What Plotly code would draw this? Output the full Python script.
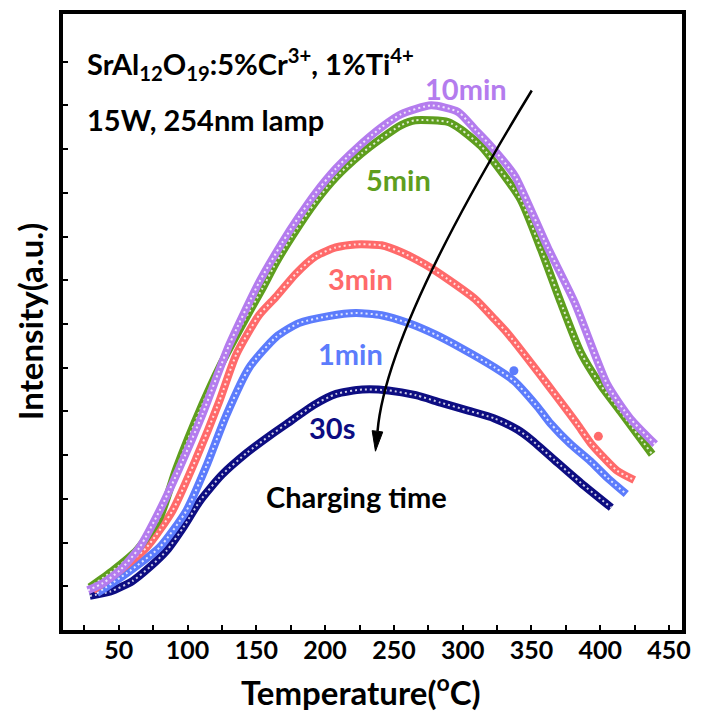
import plotly.graph_objects as go

# Thermoluminescence glow curves of SrAl12O19:5%Cr3+,1%Ti4+ after different charging times
temp_30s = [29, 44, 60, 73, 85, 97, 109, 125, 143, 160, 176, 192, 208, 227, 246, 266, 284,
            304, 323, 340, 350, 367, 386, 408]
int_30s = [0.78, 0.88, 1.12, 1.45, 1.82, 2.35, 2.95, 3.55, 4.05, 4.45, 4.80, 5.15, 5.40,
           5.50, 5.48, 5.37, 5.20, 5.02, 4.84, 4.58, 4.35, 3.88, 3.36, 2.80]

temp_1min = [34.1, 55.8, 79.7, 99.2, 113.7, 128.0, 144.8, 164.3, 180.9, 202.6, 222.2, 241.0,
             260.5, 280.0, 298.8, 323.4, 337.2, 354.5, 363.9, 378.4, 392.9, 405.2, 418.9]
int_1min = [0.84, 1.30, 1.89, 2.73, 3.75, 4.90, 6.00, 6.70, 7.02, 7.18, 7.25, 7.20,
            7.02, 6.76, 6.45, 6.00, 5.70, 5.10, 4.72, 4.25, 3.86, 3.48, 3.11]

temp_3min = [31.2, 50.7, 70.3, 89.1, 106.4, 123.1, 135.4, 152.0, 164.3, 178.8, 193.2,
             207.7, 222.2, 241.0, 255.4, 272.8, 289.4, 309.0, 323.4, 332.8, 361.8, 372.6,
             383.5, 392.9, 403.0, 412.4, 424.7]
int_3min = [0.91, 1.36, 1.89, 2.73, 3.93, 5.23, 6.30, 7.20, 7.62, 8.15, 8.55,
            8.75, 8.82, 8.80, 8.64, 8.36, 8.02, 7.57, 7.10, 6.78, 5.61, 5.16,
            4.70, 4.28, 3.93, 3.64, 3.43]

temp_5min = [29.0, 45.7, 63.0, 79.7, 92.0, 110.8, 123.1, 140.0, 154.2, 164.3, 175.9, 193.2,
             207.7, 226.5, 241.0, 255.4, 265.6, 289.4, 298.8, 313.3, 323.4, 342.2, 357.0,
             371.2, 385.6, 400.1, 414.6, 437.7]
int_5min = [0.98, 1.36, 1.82, 2.57, 3.70, 5.16, 6.00, 7.00, 7.80, 8.40, 9.00, 9.80,
            10.35, 10.90, 11.25, 11.55, 11.66, 11.62, 11.45, 11.07, 10.68, 9.84, 8.70,
            7.50, 6.36, 5.61, 5.00, 4.02]

temp_10min = [27.6, 38.4, 50.7, 65.2, 79.7, 94.1, 110.8, 130.3, 152.0, 168.6, 180.9, 193.2,
              207.7, 222.2, 241.0, 255.4, 277.1, 296.7, 309.0, 320.5, 337.9, 347.3, 361.8,
              381.3, 405.2, 421.8, 439.9]
int_10min = [0.91, 1.07, 1.36, 1.89, 2.73, 3.70, 4.93, 6.52, 7.95, 8.85, 9.45, 10.00,
             10.55, 11.00, 11.50, 11.80, 12.00, 11.85, 11.45, 11.07, 10.39, 9.77, 8.75,
             7.50, 5.61, 4.84, 4.25]

# isolated stray readings
stray_1min = ([337.2], [5.93])
stray_3min = ([398.6], [4.43])

series = [
    ("30s", temp_30s, int_30s, "#0d0d82"),
    ("1min", temp_1min, int_1min, "#5c7cfc"),
    ("3min", temp_3min, int_3min, "#ff6a6a"),
    ("5min", temp_5min, int_5min, "#5e9e1e"),
    ("10min", temp_10min, int_10min, "#b47cee"),
]

x_ticks = [50, 100, 150, 200, 250, 300, 350, 400, 450]
y_ticks = list(range(1, 14))

FONT = "Lato"

fig = go.Figure()
for name, t, v, c in series:
    fig.add_trace(go.Scatter(x=t, y=v, mode="lines", name=name,
                             line=dict(color=c, width=8, shape="spline", smoothing=0.6)))
    fig.add_trace(go.Scatter(x=t, y=v, mode="lines", hoverinfo="skip",
                             line=dict(color="rgba(255,255,255,0.8)", width=2,
                                       shape="spline", smoothing=0.6, dash="2px,3px")))

for (sx, sy), c in [(stray_1min, "#5c7cfc"), (stray_3min, "#ff6a6a")]:
    fig.add_trace(go.Scatter(x=sx, y=sy, mode="markers",
                             marker=dict(color=c, size=9, line=dict(width=0))))

label_pos = {
    "10min": (302.4, 12.39),
    "5min": (253.3, 10.30),
    "3min": (225.8, 8.05),
    "1min": (218.5, 6.32),
    "30s": (204.8, 4.64),
}
annotations = []
for name, t, v, c in series:
    lx, ly = label_pos[name]
    annotations.append(dict(x=lx, y=ly, xref="x", yref="y", text=name, showarrow=False,
                            font=dict(family=FONT, size=29, color=c, weight="bold")))

annotations += [
    dict(x=222.9, y=3.05, xref="x", yref="y", text="Charging time", showarrow=False,
         font=dict(family=FONT, size=29, color="black", weight="bold")),
    dict(x=25.4, y=12.95, xref="x", yref="y", xanchor="left",
         text="SrAl<sub>12</sub>O<sub>19</sub>:5%Cr<sup>3+</sup>, 1%Ti<sup>4+</sup>",
         showarrow=False, font=dict(family=FONT, size=29, color="black", weight="bold")),
    dict(x=25.4, y=11.68, xref="x", yref="y", xanchor="left", text="15W, 254nm lamp",
         showarrow=False, font=dict(family=FONT, size=29, color="black", weight="bold")),
    dict(x=0.482, y=-0.097, xref="paper", yref="paper", xanchor="center", yanchor="middle",
         text="Temperature(<sup>o</sup>C)", showarrow=False,
         font=dict(family=FONT, size=33, color="black", weight="bold")),
    dict(x=-0.053, y=0.5, xref="paper", yref="paper", xanchor="center", yanchor="middle",
         textangle=-90, text="Intensity(a.u.)", showarrow=False,
         font=dict(family=FONT, size=33, color="black", weight="bold")),
]

# curved arrow running from the longest to the shortest charging time
shapes = [
    dict(type="path", xref="x", yref="y",
         path="M 350.2,12.34 Q 244.6,6.91 238.1,4.545",
         line=dict(color="black", width=2.5)),
    dict(type="path", xref="x", yref="y",
         path="M 236.6,4.09 L 234.2,4.56 L 241.9,4.53 Z",
         fillcolor="black", line=dict(color="black", width=1)),
]

axis_common = dict(showline=True, linecolor="black", linewidth=3.5, mirror=True,
                   ticks="inside", tickcolor="black", tickwidth=2, ticklen=5,
                   showgrid=False, zeroline=False)

fig.update_layout(
    width=701, height=713,
    margin=dict(l=63, r=16, t=10, b=83),
    paper_bgcolor="white", plot_bgcolor="white",
    showlegend=False,
    annotations=annotations,
    shapes=shapes,
    xaxis=dict(range=[9.5, 459.4], tickvals=x_ticks, ticklabelstandoff=-5,
               tickfont=dict(family=FONT, size=25, color="black", weight="bold"),
               minor=dict(dtick=25, ticks="inside", ticklen=5, tickwidth=2, tickcolor="black"),
               **axis_common),
    yaxis=dict(range=[0, 14.09], tickvals=y_ticks, showticklabels=False, **axis_common),
)

fig.write_html("out.html")
